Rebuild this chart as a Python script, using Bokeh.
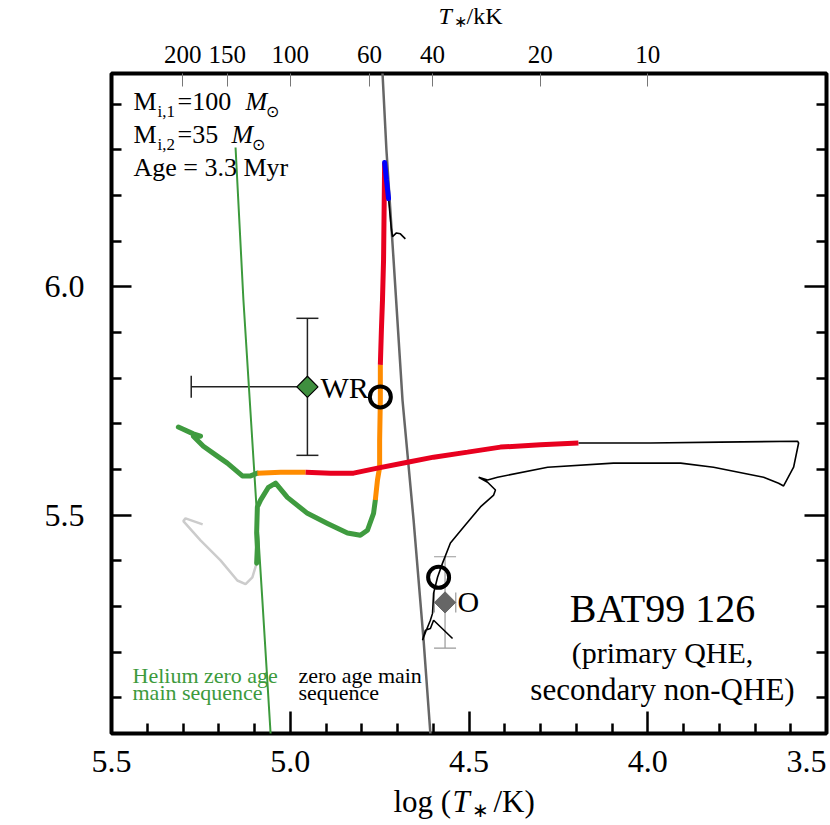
import numpy as np
from bokeh.plotting import figure
from bokeh.layouts import column
from bokeh.models import (Range1d, LinearAxis, FixedTicker, Label, Whisker, TeeHead,
                          ColumnDataSource, PrintfTickFormatter)
from bokeh.core.properties import value
from bokeh.embed import file_html
from bokeh.resources import INLINE

# ---------------- data (log T_*, log L) ----------------
zams_logT = [4.742, 4.731, 4.711, 4.686, 4.655, 4.627, 4.608, 4.600]
zams_logL = [6.469, 6.300, 6.059, 5.752, 5.489, 5.226, 5.022, 4.950]

hezams_logT = [5.153, 5.131, 5.078, 5.055, 5.050]
hezams_logL = [6.305, 5.971, 5.314, 5.022, 4.950]

gray_logT = [5.245, 5.293, 5.299, 5.251, 5.195, 5.148, 5.125, 5.106, 5.094]
gray_logL = [5.480, 5.493, 5.487, 5.445, 5.401, 5.357, 5.349, 5.364, 5.395]

green1_logT = [5.094, 5.092, 5.094, 5.092, 5.083, 5.061, 5.041, 5.008, 4.952, 4.896, 4.840, 4.804, 4.784, 4.767, 4.762]
green1_logL = [5.395, 5.430, 5.461, 5.518, 5.533, 5.561, 5.570, 5.539, 5.504, 5.482, 5.461, 5.456, 5.467, 5.504, 5.533]

orange1_logT = [4.762, 4.756, 4.750, 4.750, 4.748, 4.748]
orange1_logL = [5.533, 5.577, 5.605, 5.664, 5.752, 5.829]

red1_logT = [4.748, 4.745, 4.742, 4.739, 4.736]
red1_logL = [5.829, 5.906, 5.971, 6.059, 6.272]

blue_logT = [4.736, 4.731, 4.725]
blue_logL = [6.272, 6.235, 6.193]

black1_logT = [4.725, 4.717, 4.714, 4.703, 4.692, 4.678]
black1_logL = [6.193, 6.125, 6.110, 6.118, 6.116, 6.105]

green2_logT = [5.313, 5.271, 5.251, 5.271, 5.243, 5.209, 5.176, 5.134, 5.111, 5.092]
green2_logL = [5.693, 5.678, 5.673, 5.673, 5.651, 5.632, 5.614, 5.586, 5.586, 5.592]

orange2_logT = [5.092, 5.027, 4.957]
orange2_logL = [5.592, 5.594, 5.594]

red2_logT = [4.957, 4.887, 4.823, 4.756, 4.672, 4.599, 4.504, 4.412, 4.300, 4.194]
red2_logL = [5.594, 5.592, 5.592, 5.603, 5.616, 5.627, 5.638, 5.649, 5.654, 5.658]

black2_logT = [4.194, 3.992, 3.797, 3.581, 3.578, 3.592, 3.620, 3.634, 3.676, 3.816, 3.908, 4.096,
               4.280, 4.420, 4.448, 4.473, 4.448, 4.426, 4.431, 4.468, 4.515, 4.552, 4.574, 4.588,
               4.599, 4.602, 4.608, 4.622, 4.630, 4.622, 4.608, 4.599, 4.546]
black2_logL = [5.658, 5.658, 5.660, 5.662, 5.658, 5.605, 5.564, 5.570, 5.583, 5.605, 5.614, 5.614,
               5.605, 5.583, 5.577, 5.583, 5.572, 5.555, 5.544, 5.518, 5.474, 5.439, 5.395, 5.364,
               5.329, 5.285, 5.270, 5.243, 5.226, 5.248, 5.252, 5.270, 5.230]

wr_logT, wr_logL = 4.952, 5.781
wr_logT_err_hot = 0.325
wr_logL_err = 0.15

o_logT, o_logL = 4.567, 5.309
o_logT_err = 0.03
o_logL_err = 0.10

model_logT = [4.748, 4.585]
model_logL = [5.759, 5.364]

top_tick_kK = [200, 150, 100, 60, 40, 20, 10]
bottom_ticks = [5.5, 5.0, 4.5, 4.0, 3.5]
left_ticks = [5.5, 6.0]

# ---------------- geometry ----------------
SERIF = "Liberation Serif"
X_LO, X_HI = 5.5, 3.5
Y_LO, Y_HI = 5.022, 6.467
FL, FW, FR = 111, 715, 4          # frame left border, frame width, right border
TOP_H = 32                        # strip holding the upper axis title
FT, FH, FB = 41, 660, 8           # main figure top border, frame height, bottom border
BOT_H = 825 - TOP_H - FT - FH - FB
TOTAL_W = FL + FW + FR
PPU = FW / (X_LO - X_HI)
K = 0.37                          # baseline correction (fraction of font size)

p = figure(width=TOTAL_W, height=FT + FH + FB, x_range=Range1d(X_LO, X_HI), y_range=Range1d(Y_LO, Y_HI),
           output_backend="svg", toolbar_location=None, x_axis_location=None, y_axis_location=None,
           min_border_left=FL, min_border_right=FR, min_border_top=FT, min_border_bottom=FB,
           frame_align=False, title=None)
p.grid.visible = False
p.outline_line_color = "black"
p.outline_line_width = 4
p.background_fill_color = "white"
p.border_fill_color = "white"

def style_axis(ax, major_in, minor_in):
    ax.axis_line_color = None
    ax.major_tick_out = 0
    ax.minor_tick_out = 0
    ax.major_tick_in = major_in
    ax.minor_tick_in = minor_in
    ax.major_tick_line_width = 2.5
    ax.minor_tick_line_width = 2.5
    ax.major_tick_line_color = "black"
    ax.minor_tick_line_color = "black"
    ax.major_label_text_font = SERIF
    ax.major_label_text_color = "black"

x_minor = [round(v, 1) for v in np.arange(3.6, 5.45, 0.1) if abs(v * 2 - round(v * 2)) > 1e-6]
y_minor = [round(v, 1) for v in np.arange(5.1, 6.45, 0.1) if abs(v * 2 - round(v * 2)) > 1e-6]

bax = LinearAxis(ticker=FixedTicker(ticks=bottom_ticks, minor_ticks=x_minor))
style_axis(bax, 22, 10)
bax.major_label_overrides = {t: "" for t in bottom_ticks}
bax.major_label_text_font_size = "1px"
bax.major_label_standoff = 0
p.add_layout(bax, "below")

lax = LinearAxis(ticker=FixedTicker(ticks=left_ticks, minor_ticks=y_minor),
                 formatter=PrintfTickFormatter(format="%.1f"))
style_axis(lax, 20, 10)
lax.major_label_text_font_size = "32px"
lax.major_label_standoff = 27
p.add_layout(lax, "left")

rax = LinearAxis(ticker=FixedTicker(ticks=left_ticks, minor_ticks=y_minor))
style_axis(rax, 22, 10)
rax.major_label_overrides = {t: "" for t in left_ticks}
rax.major_label_text_font_size = "1px"
rax.major_label_standoff = 0
p.add_layout(rax, "right")

top_pos = [float(np.log10(t * 1000.0)) for t in top_tick_kK]
tax = LinearAxis(ticker=FixedTicker(ticks=top_pos, minor_ticks=[]))
style_axis(tax, 13, 0)
tax.major_tick_line_width = 1
tax.major_tick_line_color = "#777777"
tax.major_label_overrides = {pos: str(t) for pos, t in zip(top_pos, top_tick_kK)}
tax.major_label_text_font_size = "25px"
tax.major_label_standoff = 11
p.add_layout(tax, "above")

# ---------------- curves ----------------
p.line(hezams_logT, hezams_logL, line_color="#3c9a3c", line_width=2)
p.line(zams_logT, zams_logL, line_color="#666666", line_width=2.5)
p.line(gray_logT, gray_logL, line_color="#cccccc", line_width=2.5)
p.line(black1_logT, black1_logL, line_color="black", line_width=1.6)
p.line(black2_logT, black2_logL, line_color="black", line_width=1.6)
TW = 5
p.line(green1_logT, green1_logL, line_color="#3f9b3f", line_width=TW, line_join="round", line_cap="round")
p.line(green2_logT, green2_logL, line_color="#3f9b3f", line_width=TW, line_join="round", line_cap="round")
p.line(orange1_logT, orange1_logL, line_color="#ff8c00", line_width=TW)
p.line(orange2_logT, orange2_logL, line_color="#ff8c00", line_width=TW)
p.line(red1_logT, red1_logL, line_color="#e8001f", line_width=TW)
p.line(red2_logT, red2_logL, line_color="#e8001f", line_width=TW)
p.line(blue_logT, blue_logL, line_color="#0000ff", line_width=TW, line_cap="round")

# ---------------- error bars & points ----------------
wr_src = ColumnDataSource(dict(x=[wr_logT], y=[wr_logL],
                               lo=[wr_logL - wr_logL_err], hi=[wr_logL + wr_logL_err],
                               xlo=[wr_logT + wr_logT_err_hot], xhi=[wr_logT]))
p.add_layout(Whisker(source=wr_src, base="x", lower="lo", upper="hi", dimension="height",
                     line_color="#222222", line_width=1.5,
                     lower_head=TeeHead(size=22, line_color="#222222", line_width=1.5),
                     upper_head=TeeHead(size=22, line_color="#222222", line_width=1.5)))
p.add_layout(Whisker(source=wr_src, base="y", lower="xlo", upper="xhi", dimension="width",
                     line_color="#222222", line_width=1.5,
                     lower_head=TeeHead(size=22, line_color="#222222", line_width=1.5),
                     upper_head=None))

o_src = ColumnDataSource(dict(x=[o_logT], y=[o_logL],
                              lo=[o_logL - o_logL_err], hi=[o_logL + o_logL_err],
                              xlo=[o_logT + o_logT_err], xhi=[o_logT - o_logT_err]))
p.add_layout(Whisker(source=o_src, base="x", lower="lo", upper="hi", dimension="height",
                     line_color="#999999", line_width=1.2,
                     lower_head=TeeHead(size=22, line_color="#999999", line_width=1.2),
                     upper_head=TeeHead(size=22, line_color="#999999", line_width=1.2)))
p.add_layout(Whisker(source=o_src, base="y", lower="xlo", upper="xhi", dimension="width",
                     line_color="#999999", line_width=1.2,
                     lower_head=TeeHead(size=20, line_color="#999999", line_width=1.2),
                     upper_head=TeeHead(size=20, line_color="#999999", line_width=1.2)))

p.scatter([wr_logT], [wr_logL], marker="square", angle=np.pi / 4, size=15,
          fill_color="#3f8f3f", line_color="black", line_width=1.2)
p.scatter([o_logT], [o_logL], marker="square", angle=np.pi / 4, size=15,
          fill_color="#666666", line_color="#666666", line_width=1)
p.scatter(model_logT, model_logL, marker="circle", size=21, fill_color=None,
          line_color="black", line_width=4)

# ---------------- texts inside the frame ----------------
def dx(px):
    return X_LO - (px - FL) / PPU
PXY = FH / (Y_HI - Y_LO)
def dy(py):
    return Y_HI - (py - (TOP_H + FT)) / PXY

def lab(px, py, text, size, color="black", style="normal", align="left"):
    p.add_layout(Label(x=dx(px), y=dy(py - K * size), text=text, text_font=SERIF,
                       text_font_size=f"{size}px", text_font_style=style, text_color=color,
                       text_baseline="alphabetic", text_align=align))

lab(133, 111, "M", 26); lab(157, 117, "i,1", 17); lab(177, 111, "=100", 26)
lab(245, 111, "M", 26, style="italic"); lab(265, 117, "⊙", 16)
lab(133, 144, "M", 26); lab(157, 150, "i,2", 17); lab(177, 144, "=35", 26)
lab(231, 144, "M", 26, style="italic"); lab(251, 150, "⊙", 16)
lab(133, 177, "Age = 3.3 Myr", 26)

lab(320, 398, "WR", 30)
lab(457, 612, "O", 30)

lab(662, 623, "BAT99 126", 40, align="center")
lab(662, 663, "(primary QHE,", 30, align="center")
lab(662, 700, "secondary non-QHE)", 31, align="center")

lab(132, 683, "Helium zero age", 22, color="#3c9a3c")
lab(132, 700, "main sequence", 22, color="#3c9a3c")
lab(298, 683, "zero age main", 22)
lab(298, 700, "sequence", 22)

# ---------------- title strips (top: T*/kK, bottom: tick labels + log(T*/K)) ----------------
def strip(h, x_range):
    s = figure(width=TOTAL_W, height=h, x_range=x_range, y_range=Range1d(0, h),
               output_backend="svg", toolbar_location=None, x_axis_location=None,
               y_axis_location=None, min_border=0, min_border_left=0, min_border_right=0,
               min_border_top=0, min_border_bottom=0, frame_align=False, title=None)
    s.grid.visible = False
    s.outline_line_color = None
    s.background_fill_color = "white"
    s.border_fill_color = "white"
    return s

def stext(s, h, x, base_py, text, size, style="normal", align="left"):
    # base_py: wanted baseline, in pixels from the top of the strip
    s.text(x=[x], y=[h - base_py + K * size], text=[text], text_font=value(SERIF),
           text_font_size=value(f"{size}px"), text_font_style=value(style), text_color="black",
           text_baseline=value("alphabetic"), text_align=value(align))

top = strip(TOP_H, Range1d(0, TOTAL_W))
stext(top, TOP_H, 438, 24, "T", 24, style="italic")
stext(top, TOP_H, 453, 27, "∗", 16)
stext(top, TOP_H, 466, 24, "/kK", 24)

# bottom strip shares the main x scale (same pixels per unit, same origin)
bot = strip(BOT_H, Range1d(X_LO + FL / PPU, X_HI - FR / PPU))
B0 = TOP_H + FT + FH + FB
for t in bottom_ticks:
    stext(bot, BOT_H, t, 773 - B0, f"{t:.1f}", 32, align="right" if t == X_HI else "center")
stext(bot, BOT_H, dx(393), 812 - B0, "log (", 31)
stext(bot, BOT_H, dx(452), 812 - B0, "T", 31, style="italic")
stext(bot, BOT_H, dx(471), 817 - B0, "∗", 20)
stext(bot, BOT_H, dx(493), 812 - B0, "/K)", 31)

layout = column(top, p, bot, spacing=0)
open("out.html", "w").write(file_html(layout, INLINE))
